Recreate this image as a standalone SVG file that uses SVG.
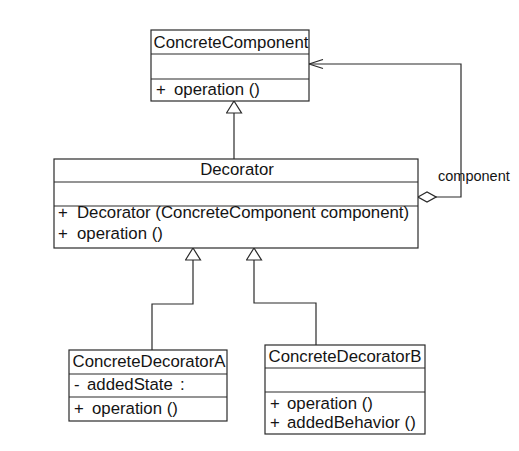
<svg xmlns="http://www.w3.org/2000/svg" width="519" height="451" viewBox="0 0 519 451">
  <style>
    .box { fill: #ffffff; stroke: #2a2a2a; stroke-width: 1.2; }
    .sep { stroke: #2a2a2a; stroke-width: 1.2; }
    .t { font-family: "Liberation Sans", Arial, sans-serif; font-size: 16.8px; fill: #141414; }
    .c { text-anchor: middle; }
    .lbl { font-family: "Liberation Sans", Arial, sans-serif; font-size: 14.5px; fill: #141414; }
    .edge { fill: none; stroke: #2a2a2a; stroke-width: 1.2; }
  </style>
  <defs>
    <!-- hollow triangle for generalization -->
    <marker id="gen" markerUnits="userSpaceOnUse" viewBox="-1 -1 14 17" refX="12" refY="7.5" markerWidth="14" markerHeight="17" orient="auto">
      <path d="M0,0 L12,7.5 L0,15 Z" fill="#ffffff" stroke="#2a2a2a" stroke-width="1.2"/>
    </marker>
    <!-- hollow diamond for aggregation -->
    <marker id="agg" markerUnits="userSpaceOnUse" viewBox="-1 -1 20 12" refX="0" refY="5" markerWidth="20" markerHeight="12" orient="auto">
      <path d="M0,5 L9,0 L18,5 L9,10 Z" fill="#ffffff" stroke="#2a2a2a" stroke-width="1.2"/>
    </marker>
    <!-- open arrowhead for navigability -->
    <marker id="open" markerUnits="userSpaceOnUse" viewBox="-1 -1 16 11" refX="14" refY="4.5" markerWidth="16" markerHeight="11" orient="auto">
      <path d="M0,0 L14,4.5 L0,9" fill="none" stroke="#2a2a2a" stroke-width="1.2"/>
    </marker>
  </defs>

  <g id="connectors">
    <path class="edge" d="M234,159 V101" marker-end="url(#gen)"/>
    <path class="edge" d="M152,350 V304 H193 V248" marker-end="url(#gen)"/>
    <path class="edge" d="M316,345 V303 H254 V248" marker-end="url(#gen)"/>
    <path class="edge" d="M418,197 H461 V64 H309" marker-start="url(#agg)" marker-end="url(#open)"/>
    <text class="lbl" x="438" y="181">component</text>
  </g>

  <g id="ConcreteComponent">
    <rect class="box" x="151" y="30" width="158" height="71"/>
    <line class="sep" x1="151" y1="54" x2="309" y2="54"/>
    <line class="sep" x1="151" y1="79" x2="309" y2="79"/>
    <text class="t c" x="231" y="48">ConcreteComponent</text>
    <text class="t" x="156" y="95">+<tspan x="174">operation ()</tspan></text>
  </g>

  <g id="Decorator">
    <rect class="box" x="54" y="159" width="364" height="89"/>
    <line class="sep" x1="54" y1="182" x2="418" y2="182"/>
    <line class="sep" x1="54" y1="206" x2="418" y2="206"/>
    <text class="t c" x="237" y="175">Decorator</text>
    <text class="t" x="58" y="218">+<tspan x="77">Decorator (ConcreteComponent component)</tspan></text>
    <text class="t" x="58" y="239">+<tspan x="77">operation ()</tspan></text>
  </g>

  <g id="ConcreteDecoratorA">
    <rect class="box" x="69" y="350" width="158" height="71"/>
    <line class="sep" x1="69" y1="374" x2="227" y2="374"/>
    <line class="sep" x1="69" y1="397" x2="227" y2="397"/>
    <text class="t c" x="149" y="367">ConcreteDecoratorA</text>
    <text class="t" x="74" y="390">-<tspan x="87">addedState</tspan><tspan x="180">:</tspan></text>
    <text class="t" x="74" y="414">+<tspan x="92">operation ()</tspan></text>
  </g>

  <g id="ConcreteDecoratorB">
    <rect class="box" x="265" y="345" width="160" height="89"/>
    <line class="sep" x1="265" y1="368" x2="425" y2="368"/>
    <line class="sep" x1="265" y1="392" x2="425" y2="392"/>
    <text class="t c" x="345" y="362">ConcreteDecoratorB</text>
    <text class="t" x="270" y="409">+<tspan x="287">operation ()</tspan></text>
    <text class="t" x="270" y="428">+<tspan x="287">addedBehavior ()</tspan></text>
  </g>
</svg>
